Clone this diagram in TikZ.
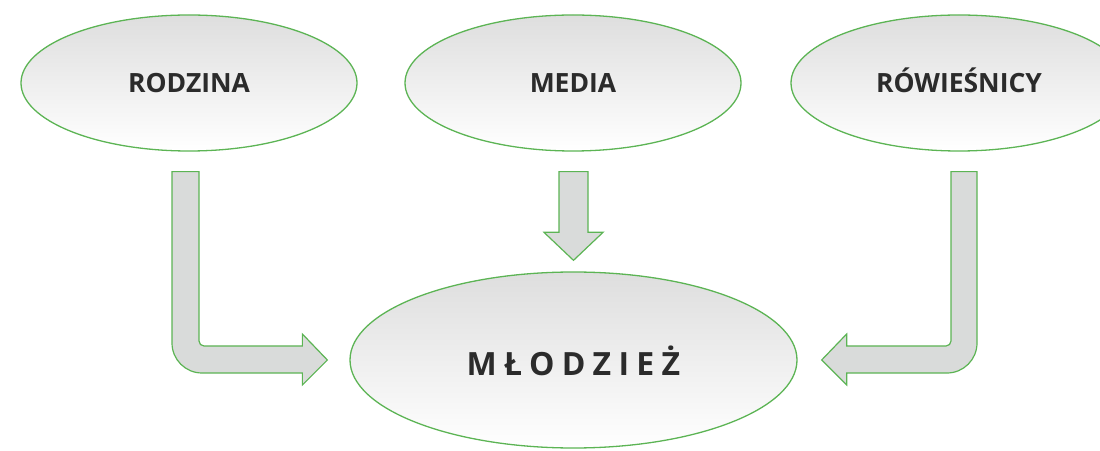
\documentclass[tikz,border=0pt]{standalone}
\usepackage{fontspec}
\setmainfont{Open Sans}
\newfontfamily\spacedsans[LetterSpace=23]{Open Sans}
\usetikzlibrary{shapes.geometric,calc}
\definecolor{leafgreen}{RGB}{92,180,84}
\definecolor{arrowgray}{RGB}{217,219,218}
\definecolor{inkgray}{RGB}{43,43,43}

\begin{document}
\begin{tikzpicture}[x=1pt,y=1pt,
  blob/.style={ellipse,draw=leafgreen,line width=1.3pt,top color=black!13,bottom color=white,
    minimum width=336pt,minimum height=136pt,inner sep=0pt,text=inkgray,
    text height=19pt,text depth=0pt,font=\fontsize{26.5}{30}\selectfont\bfseries},
  blockarrow/.style={draw=leafgreen,line width=1.2pt,fill=arrowgray,line join=miter}]
\useasboundingbox (0,0) rectangle (1100,450);
\node[blob] (rodzina) at (189,367) {RODZINA};
\node[blob] (media) at (573,367) {MEDIA};
\node[blob] (rowiesnicy) at (959,367) {RÓWIEŚNICY};
\node[blob,minimum width=447pt,minimum height=176pt,text height=30pt,
  font=\fontsize{32}{36}\selectfont\spacedsans\bfseries] (mlodziez) at (573.5,90) {MŁODZIEŻ};
% anchors for the three block arrows
\coordinate (fromRodzina) at ([xshift=-3.5pt,yshift=-20pt]rodzina.south);
\coordinate (intoLeft) at ([xshift=-22pt]mlodziez.west);
\coordinate (fromMedia) at ([xshift=0.5pt,yshift=-20pt]media.south);
\coordinate (intoTop) at ([yshift=11pt]mlodziez.north);
\coordinate (fromRowiesnicy) at ([xshift=5pt,yshift=-20pt]rowiesnicy.south);
\coordinate (intoRight) at ([xshift=24pt]mlodziez.east);
\draw[blockarrow] let \p1=(fromRodzina), \p2=(intoLeft) in
  (\x1-13.5,\y1) -- (\x1+13.5,\y1) -- (\x1+13.5,\y2+19)
  arc[start angle=180,end angle=270,radius=5]
  -- (\x2-25,\y2+14) -- (\x2-25,\y2+26) -- (\x2,\y2) -- (\x2-25,\y2-25) -- (\x2-25,\y2-13)
  -- (\x1+16.5,\y2-13) arc[start angle=270,end angle=180,radius=30] -- cycle;
\draw[blockarrow] let \p1=(fromMedia), \p2=(intoTop) in
  (\x1-14.5,\y1) -- (\x1+14.5,\y1) -- (\x1+14.5,\y2+28) -- (\x1+29.5,\y2+28)
  -- (\x2,\y2) -- (\x1-29.5,\y2+28) -- (\x1-14.5,\y2+28) -- cycle;
\draw[blockarrow] let \p1=(fromRowiesnicy), \p2=(intoRight) in
  (\x1+13,\y1) -- (\x1-13,\y1) -- (\x1-13,\y2+19)
  arc[start angle=0,end angle=-90,radius=5]
  -- (\x2+25,\y2+14) -- (\x2+25,\y2+26) -- (\x2,\y2) -- (\x2+25,\y2-25) -- (\x2+25,\y2-13)
  -- (\x1-17,\y2-13) arc[start angle=-90,end angle=0,radius=30] -- cycle;
\end{tikzpicture}
\end{document}
